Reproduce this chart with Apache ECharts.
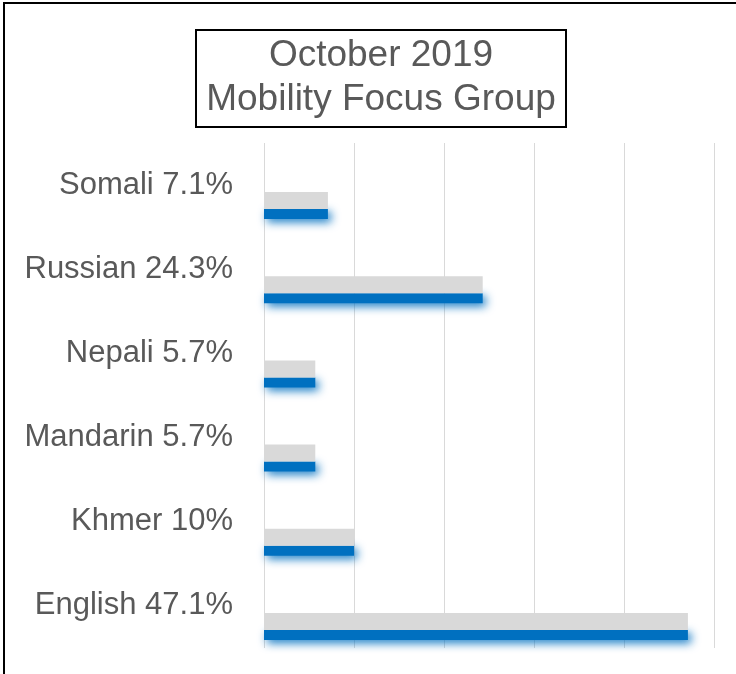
<!DOCTYPE html>
<html>
<head>
<meta charset="utf-8">
<script src="https://cdn.jsdelivr.net/npm/echarts@6/dist/echarts.min.js"></script>
<style>
  html, body { margin: 0; padding: 0; background: #fff; }
  #main { width: 736px; height: 674px; }
</style>
</head>
<body>
<div id="main"></div>
<script>
// 语言类别（从上到下）
const categories = ['Somali 7.1%', 'Russian 24.3%', 'Nepali 5.7%', 'Mandarin 5.7%', 'Khmer 10%', 'English 47.1%']
// 百分比
const values = [7.1, 24.3, 5.7, 5.7, 10, 47.1]
// 占位系列，让柱子落在类别下半部分
const spacer = [0, 0, 0, 0, 0, 0]

const myChart = echarts.init(document.getElementById('main'))

const font = "'Liberation Sans', Arial, sans-serif"

const option = {
  animation: false,
  title: {
    text: 'October 2019\nMobility Focus Group',
    left: 371,
    top: 30,
    textAlign: 'center',
    padding: [4, 10, 5, 10],
    borderColor: '#000',
    borderWidth: 2,
    textStyle: {
      fontFamily: font,
      fontSize: 37,
      fontWeight: 'normal',
      lineHeight: 44,
      color: '#595959'
    }
  },
  graphic: [{
    type: 'rect',
    shape: { x: 4, y: 3, width: 800, height: 800 },
    style: { fill: 'none', stroke: '#000', lineWidth: 2 },
    silent: true
  }],
  grid: {
    left: 264,
    right: 22,
    top: 143,
    bottom: 26
  },
  xAxis: {
    type: 'value',
    min: 0,
    max: 50,
    interval: 10,
    axisLabel: { show: false },
    axisLine: { show: false },
    axisTick: { show: false },
    splitLine: { lineStyle: { color: '#d9d9d9', width: 1 } }
  },
  yAxis: {
    type: 'category',
    inverse: true,
    data: categories,
    axisLine: { show: false },
    axisTick: { show: false },
    axisLabel: {
      fontFamily: font,
      fontSize: 31,
      color: '#595959',
      margin: 31
    }
  },
  series: [{
    type: 'bar',
    name: 'spacer',
    data: spacer,
    barWidth: 41,
    barGap: '0%',
    silent: true,
    itemStyle: { color: 'transparent' }
  }, {
    type: 'bar',
    name: 'gray',
    data: values,
    barWidth: 17,
    barGap: '0%',
    itemStyle: { color: '#d9d9d9' }
  }, {
    type: 'bar',
    name: 'blue',
    data: values,
    barWidth: 10,
    barGap: '0%',
    z: 1,
    itemStyle: {
      color: '#0070c0',
      shadowColor: 'rgba(0,112,192,0.95)',
      shadowBlur: 10,
      shadowOffsetX: 3,
      shadowOffsetY: 3
    }
  }]
}
myChart.setOption(option)
</script>
</body>
</html>
